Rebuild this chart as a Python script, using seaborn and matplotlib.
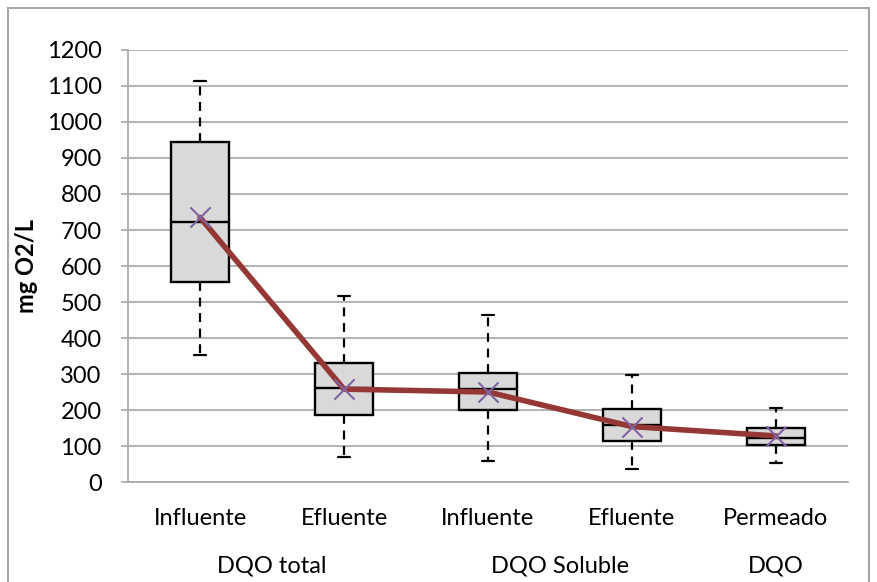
import matplotlib
matplotlib.use("Agg")
import matplotlib.pyplot as plt
import matplotlib.transforms as mtransforms
from matplotlib.patches import Rectangle
import seaborn as sns
import pandas as pd

# Box statistics (mg O2/L)
categories = ["Influente", "Efluente", "Influente", "Efluente", "Permeado"]
groups = ["DQO total", "DQO Soluble", "DQO"]
group_centers = [0.5, 2.5, 4.0]
whisker_low = [352, 70, 58, 35, 52]
q1 = [555, 186, 200, 115, 103]
median = [723, 260, 258, 157, 123]
q3 = [945, 331, 302, 203, 151]
whisker_high = [1115, 517, 463, 298, 206]
mean = [735, 258, 250, 154, 128]

sns.set_theme(style="white")
plt.rcParams["font.family"] = ["Lato", "DejaVu Sans"]
plt.rcParams["text.color"] = "black"
plt.rcParams["axes.labelcolor"] = "black"
plt.rcParams["xtick.color"] = "black"
plt.rcParams["ytick.color"] = "black"

FS = 17

fig = plt.figure(figsize=(8.78, 5.82), dpi=100)
ax = fig.add_axes([0.1458, 0.1718, 0.82, 0.7423])

stats = []
for i in range(len(categories)):
    stats.append(dict(whislo=whisker_low[i], q1=q1[i], med=median[i],
                      q3=q3[i], whishi=whisker_high[i], mean=mean[i],
                      label=categories[i]))

ax.bxp(stats, positions=range(len(categories)), widths=0.4, capwidths=0.08,
       showfliers=False, showmeans=False, patch_artist=True,
       boxprops=dict(facecolor="#D9D9D9", edgecolor="black", linewidth=1.7),
       medianprops=dict(color="black", linewidth=1.7),
       whiskerprops=dict(color="black", linewidth=1.6, linestyle=(0, (4, 3))),
       capprops=dict(color="black", linewidth=1.6), zorder=3)

df = pd.DataFrame({"pos": range(len(categories)), "mean": mean})
sns.lineplot(data=df, x="pos", y="mean", color="#953735", linewidth=4,
             ax=ax, zorder=4)
sns.scatterplot(data=df, x="pos", y="mean", marker="x", s=210,
                color="#8064A2", linewidth=1.5, ax=ax, zorder=5)

ax.set_xlim(-0.5, 4.5)
ax.set_ylim(0, 1200)
ax.set_yticks(range(0, 1201, 100))
ax.set_xticks(range(len(categories)))
ax.set_xticklabels(categories)
ax.set_xlabel("")
ax.set_ylabel("mg O2/L", fontsize=FS, fontweight="bold", labelpad=6)
ax.yaxis.grid(True, color="#A6A6A6", linewidth=1.2)
ax.set_axisbelow(True)
for side in ["top", "right"]:
    ax.spines[side].set_visible(False)
for side in ["left", "bottom"]:
    ax.spines[side].set_color("#A6A6A6")
    ax.spines[side].set_linewidth(1.2)
ax.tick_params(axis="y", which="major", left=True, length=5, width=1.2,
               color="#A6A6A6", labelcolor="black", labelsize=FS, pad=14)
ax.tick_params(axis="x", which="major", bottom=False, labelcolor="black",
               labelsize=FS, pad=13)

trans = mtransforms.blended_transform_factory(ax.transData, fig.transFigure)
for name, cx in zip(groups, group_centers):
    ax.text(cx, 0.028, name, transform=trans, ha="center", va="center",
            fontsize=FS, color="black")

fig.patches.append(Rectangle((0.009, -0.01), 0.981, 0.997,
                             transform=fig.transFigure, fill=False,
                             edgecolor="#A6A6A6", linewidth=1.5))

fig.savefig("out.png", dpi=100)
